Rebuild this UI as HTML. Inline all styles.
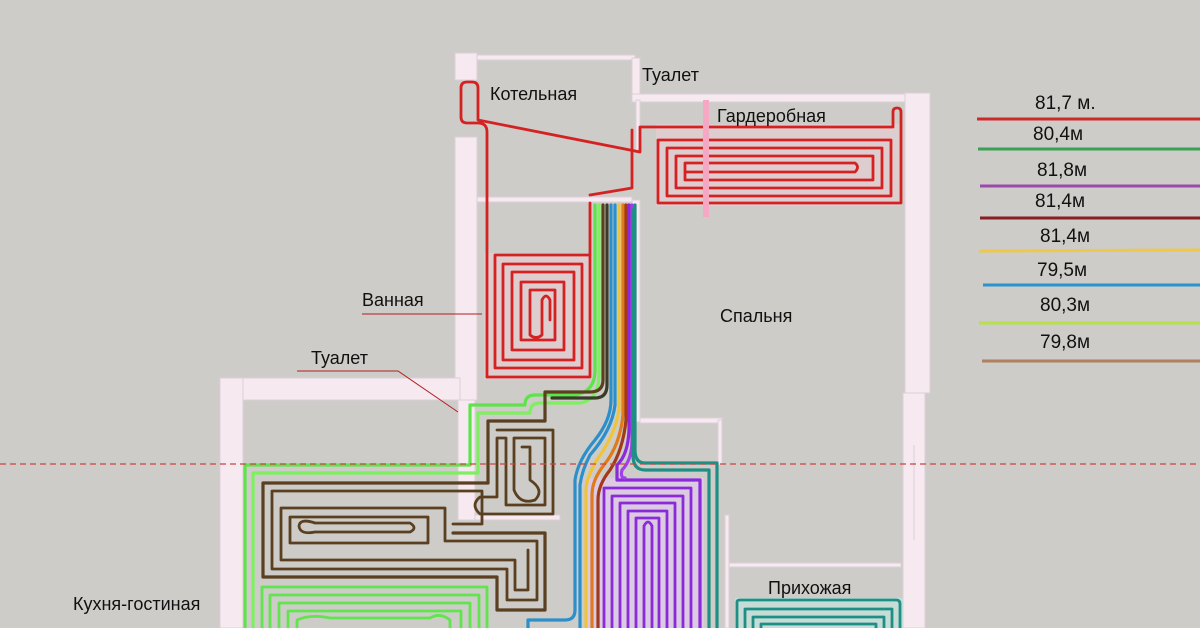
<!DOCTYPE html>
<html><head><meta charset="utf-8"><style>
html,body{margin:0;padding:0;background:#cdccc8;}
svg{display:block}
text{font-family:"Liberation Sans","DejaVu Sans",sans-serif;fill:#111;}
</style></head><body>
<svg width="1200" height="628" viewBox="0 0 1200 628" xmlns="http://www.w3.org/2000/svg">
<rect width="1200" height="628" fill="#cdccc8"/>
<g fill="#f6e9f0" stroke="#ddd0d8" stroke-width="1">
<rect x="455" y="53" width="22" height="27"/>
<rect x="477" y="55" width="158" height="5"/>
<rect x="632" y="58" width="8" height="38"/>
<rect x="632" y="94" width="275" height="8"/>
<rect x="905" y="93" width="25" height="300"/>
<rect x="455" y="137" width="22" height="263"/>
<rect x="477" y="197" width="155" height="5"/>
<rect x="632" y="200" width="8" height="222"/>
<rect x="220" y="378" width="240" height="22"/>
<rect x="220" y="378" width="23" height="250"/>
<rect x="458" y="400" width="17" height="120"/>
<rect x="475" y="515" width="85" height="5"/>
<rect x="640" y="418" width="82" height="5"/>
<rect x="718" y="420" width="4" height="45"/>
<rect x="725" y="515" width="4" height="113"/>
<rect x="729" y="563" width="172" height="4"/>
<rect x="903" y="393" width="22" height="235"/>
<line x1="914" y1="445" x2="914" y2="540"/>
<rect x="636" y="100" width="4" height="50"/>
</g>
<rect x="656" y="124" width="246" height="82" fill="#eacdd3" opacity="0.6"/>
<rect x="484" y="253" width="108" height="126" fill="#eacdd3" opacity="0.6"/>
<rect x="586" y="478" width="118" height="150" fill="#dccae3"/>
<rect x="735" y="598" width="168" height="30" fill="#c5ddd6"/>
<g fill="none" stroke-linecap="round" stroke-linejoin="round">
<g stroke="#d42222" stroke-width="2.8">
<path d="M487,377 V132 Q487,123 478,123 H467 Q461,123 461,117 V88 Q461,82 467,82 H472 Q478,82 478,88 V120 L640,152 V127 H893 V112 Q893,108 897,108 Q901,108 901,112 V203 H658 V140 H891 V196 H667 V148 H882 V188 H676 V156 H873 V180 H685 V163 H855 Q860,167 855,172 H685"/>
<path d="M590,195 L632,188 V130"/>
<path d="M487,377 H590 V255 H495 V368 H582 V264 H503 V360 H574 V272 H512 V350 H564 V282 H521 V340 H555 V290 H530 V335 Q536,340 542,335 V300 Q546,292 550,300 V320"/>
<path d="M590,255 V203"/>
</g>
<rect x="703" y="100" width="6" height="117" fill="#f4a8c4" stroke="none"/>
<g stroke-width="3.2">
<path stroke="#5ee44a" d="M595,205 V370 Q595,392 575,395 H535 Q525,395 525,405 H470 V465 H245 V628"/>
<path stroke="#7ef060" d="M599,205 V375 Q599,400 580,403 H540 Q530,403 530,413 H478 V473 H253 V628"/>
<path stroke="#5a4020" d="M603,205 V380 Q603,392 590,392 H545 V421 H488 V483 H263 V577 H497 V610 H545 V533 H453"/>
<path stroke="#3b3b2a" d="M607,205 V385 Q607,398 595,398 H552"/>
<path stroke="#2b8fcc" d="M611,205 V400 Q611,420 595,440 Q578,460 575,480 V610 Q575,620 565,620 H528 V628"/>
<path stroke="#2b8fcc" d="M615,205 V405 Q612,430 590,455 Q582,470 580,485 V628"/>
<path stroke="#f0c43a" d="M619,205 V410 Q615,435 598,458 Q586,478 586,490 V628"/>
<path stroke="#e07a1a" d="M623,205 V415 Q620,445 604,465 Q592,480 592,495 V628"/>
<path stroke="#a03a1a" d="M626,205 V420 Q623,450 610,470 Q598,485 598,500 V628"/>
<path stroke="#8a2ad8" d="M629,205 V430 Q628,455 617,465 V480 H700 V628"/>
<path stroke="#a040e8" d="M632,205 V440 Q632,460 622,470 Q620,478 625,478"/>
<path stroke="#1f8f85" d="M635,205 V450 Q635,463 645,463 H717 V628"/>
<path stroke="#1f8f85" d="M633,210 V455 Q633,470 645,470 H709 V628"/>
</g>
<g stroke="#5a4020" stroke-width="2.8">
<path d="M497,430 H553 V514 H480 Q470,505 480,497 H497 V438 H506 V505 H545 V438 H514 V490 Q520,505 535,500 Q545,490 530,480 V447 H522"/>
<path d="M272,491 H482 V524 H453 M272,491 V569 H507 V600 H537 V541 H445 V508 H281 V560 H515 V590 H528 V550 M290,517 V543 H428 V517 H290 M299,526 Q300,535 315,532 H410 Q418,528 410,523 H315 Q300,518 299,526"/>
</g>
<g stroke="#62e44e" stroke-width="2.8">
<path d="M262,628 V587 H487 V628 M270,628 V595 H479 V628 M279,628 V603 H470 V628 M288,628 V611 H461 V628 M297,628 V620 Q310,614 330,618 H430 Q440,612 450,620 V628"/>
</g>
<g stroke="#8a2ad8" stroke-width="2.8">
<path d="M604,628 V488 H691 V628 M612,628 V496 H683 V628 M620,628 V503 H675 V628 M628,628 V511 H667 V628 M636,628 V518 H659 V628 M644,628 V526 Q648,518 652,526 V628"/>
</g>
<g stroke="#1f8f85" stroke-width="2.8">
<path d="M737,628 V602 Q737,600 740,600 H896 Q900,600 900,604 V628 M745,628 V609 H892 V628 M753,628 V617 H884 V628 M761,628 V624 H876 V628"/>
</g>
</g>
<line x1="0" y1="464" x2="1200" y2="464" stroke="#c84444" stroke-width="1.3" stroke-dasharray="6,4"/>
<g stroke="#b02020" stroke-width="1" fill="none">
<path d="M362,314 H482"/>
<path d="M297,371 H398 L458,412"/>
</g>
<g font-size="18">
<text x="490" y="100">Котельная</text>
<text x="642" y="81">Туалет</text>
<text x="717" y="122">Гардеробная</text>
<text x="362" y="306">Ванная</text>
<text x="311" y="364">Туалет</text>
<text x="720" y="322">Спальня</text>
<text x="768" y="594">Прихожая</text>
<text x="73" y="610">Кухня-гостиная</text>
</g>
<g font-size="19">
<text x="1035" y="109">81,7 м.</text>
<text x="1033" y="140">80,4м</text>
<text x="1037" y="176">81,8м</text>
<text x="1035" y="207">81,4м</text>
<text x="1040" y="242">81,4м</text>
<text x="1037" y="276">79,5м</text>
<text x="1040" y="311">80,3м</text>
<text x="1040" y="348">79,8м</text>
</g>
<g stroke-width="3">
<line x1="977" y1="119" x2="1200" y2="119" stroke="#cc2a2a"/>
<line x1="978" y1="149" x2="1200" y2="149" stroke="#3aa055"/>
<line x1="980" y1="186" x2="1200" y2="186" stroke="#9a4aa8"/>
<line x1="980" y1="218" x2="1200" y2="218" stroke="#8a1e22"/>
<line x1="979" y1="251" x2="1200" y2="250" stroke="#f0c848"/>
<line x1="983" y1="285" x2="1200" y2="285" stroke="#2a92cc"/>
<line x1="979" y1="323" x2="1200" y2="323" stroke="#b8e04a"/>
<line x1="982" y1="361" x2="1200" y2="361" stroke="#b08060"/>
</g>
</svg>
</body></html>
